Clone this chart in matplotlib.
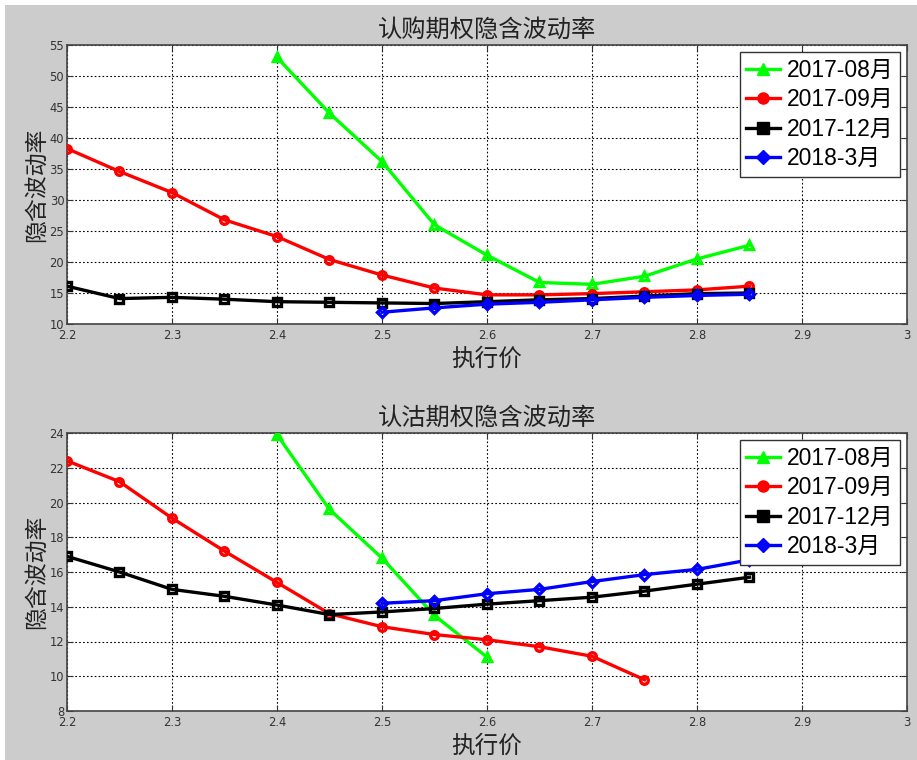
import matplotlib
matplotlib.use('Agg')
import matplotlib.pyplot as plt
from matplotlib.lines import Line2D
from matplotlib.patches import Rectangle

plt.rcParams['font.family'] = ['Noto Sans CJK SC', 'DejaVu Sans']

strikes = [2.2, 2.25, 2.3, 2.35, 2.4, 2.45, 2.5, 2.55, 2.6, 2.65, 2.7, 2.75, 2.8, 2.85]
series_names = ['2017-08月', '2017-09月', '2017-12月', '2018-3月']

# 认购 (call)
call_aug_x = [2.4, 2.45, 2.5, 2.55, 2.6, 2.65, 2.7, 2.75, 2.8, 2.85]
call_aug = [53.0, 44.0, 36.2, 26.0, 21.1, 16.7, 16.4, 17.7, 20.5, 22.7]
call_sep_x = strikes
call_sep = [38.3, 34.6, 31.2, 26.8, 24.1, 20.4, 17.9, 15.8, 14.7, 14.7, 14.9, 15.2, 15.5, 16.1]
call_dec_x = strikes
call_dec = [16.1, 14.1, 14.3, 14.0, 13.6, 13.5, 13.4, 13.3, 13.6, 13.9, 14.1, 14.5, 14.9, 15.0]
call_mar_x = [2.5, 2.55, 2.6, 2.65, 2.7, 2.75, 2.8, 2.85]
call_mar = [11.9, 12.6, 13.2, 13.5, 13.9, 14.3, 14.6, 14.8]

# 认沽 (put)
put_aug_x = [2.4, 2.45, 2.5, 2.55, 2.6]
put_aug = [23.9, 19.6, 16.8, 13.5, 11.1]
put_sep_x = [2.2, 2.25, 2.3, 2.35, 2.4, 2.45, 2.5, 2.55, 2.6, 2.65, 2.7, 2.75]
put_sep = [22.4, 21.2, 19.1, 17.2, 15.4, 13.6, 12.85, 12.4, 12.1, 11.7, 11.15, 9.8]
put_dec_x = strikes
put_dec = [16.9, 16.0, 15.0, 14.6, 14.1, 13.55, 13.7, 13.9, 14.15, 14.35, 14.55, 14.9, 15.3, 15.7]
put_mar_x = [2.5, 2.55, 2.6, 2.65, 2.7, 2.75, 2.8, 2.85]
put_mar = [14.2, 14.35, 14.75, 15.0, 15.45, 15.85, 16.15, 16.7]

colors = ['#00ff00', '#ff0000', '#000000', '#0000ff']
markers = ['^', 'o', 's', 'D']


def draw(ax, data, title, ylim, yticks):
    for (xs, ys), c, m in zip(data, colors, markers):
        ax.plot(xs, ys, color=c, lw=2.4, marker=m, ms=5.5 if m != 'D' else 5,
                mfc='none', mec=c, mew=2.4, zorder=3)
    ax.set_xlim(2.2, 3.0)
    ax.set_ylim(*ylim)
    ax.set_xticks([2.2, 2.3, 2.4, 2.5, 2.6, 2.7, 2.8, 2.9, 3.0])
    ax.set_xticklabels(['2.2', '2.3', '2.4', '2.5', '2.6', '2.7', '2.8', '2.9', '3'])
    ax.set_yticks(yticks)
    ax.grid(True, color='black', linestyle=(0, (1.5, 2)), lw=0.8)
    ax.tick_params(direction='in', length=4, labelsize=8.3, labelcolor='#333333',
                   top=True, right=True, pad=2, colors='#333333')
    ax.tick_params(axis='x', pad=3.5)
    for lab in ax.get_xticklabels() + ax.get_yticklabels():
        lab.set_family('DejaVu Sans')
    for s in ax.spines.values():
        s.set_color('#444444')
        s.set_linewidth(1.2)
    ax.set_title(title, fontsize=17.5, color='#222222', pad=6)
    ax.set_xlabel('执行价', fontsize=17, color='#222222', labelpad=4)
    ax.set_ylabel('隐含波动率', fontsize=16.5, color='#222222', labelpad=1)
    handles = [Line2D([], [], color=c, lw=2.4, marker=m, ms=8 if m != 'D' else 7, mfc=c, mec=c)
               for c, m in zip(colors, markers)]
    leg = ax.legend(handles, series_names, loc='upper right',
                    prop={'family': ['Liberation Sans', 'Noto Sans CJK SC'], 'size': 16.5},
                    fancybox=False, edgecolor='#333333', framealpha=1, borderaxespad=0.3,
                    handlelength=1.45, handletextpad=0.3, labelspacing=0.28, borderpad=0.3)
    leg.get_frame().set_linewidth(1.0)


fig = plt.figure(figsize=(9.17, 7.6), dpi=100, facecolor='white')
fig.patches.append(Rectangle((5 / 917, 0), 1, 1 - 5 / 760, transform=fig.transFigure,
                             facecolor='#cccccc', edgecolor='none', zorder=-10))

ax1 = fig.add_axes([67 / 917, 1 - 324 / 760, 840 / 917, 279 / 760])
draw(ax1, [(call_aug_x, call_aug), (call_sep_x, call_sep), (call_dec_x, call_dec),
           (call_mar_x, call_mar)], '认购期权隐含波动率', (10, 55), range(10, 56, 5))

ax2 = fig.add_axes([67 / 917, 1 - 711 / 760, 840 / 917, 278 / 760])
draw(ax2, [(put_aug_x, put_aug), (put_sep_x, put_sep), (put_dec_x, put_dec),
           (put_mar_x, put_mar)], '认沽期权隐含波动率', (8, 24), range(8, 25, 2))

fig.savefig('out.png', dpi=100, facecolor=fig.get_facecolor())
